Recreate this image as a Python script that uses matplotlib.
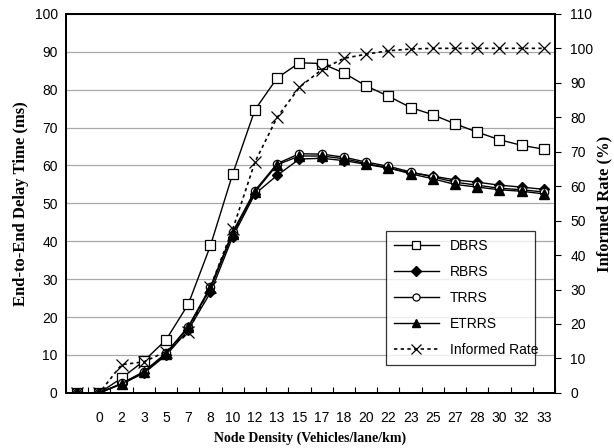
import numpy as np
import matplotlib.pyplot as plt

# categories on the x axis (first one has no label)
densities = ["", "0", "2", "3", "5", "7", "8", "10", "12", "13", "15", "17",
             "18", "20", "22", "23", "25", "27", "28", "30", "32", "33"]

dbrs = [0, 0, 3.9, 8.4, 14.0, 23.4, 38.9, 57.8, 74.7, 83.1, 87.1, 86.9,
        84.4, 81.0, 78.3, 75.3, 73.4, 71.0, 68.8, 66.8, 65.3, 64.3]
rbrs = [0, 0, 2.3, 5.2, 9.9, 16.6, 26.5, 41.2, 52.5, 57.4, 61.7, 61.9,
        61.3, 60.3, 59.3, 58.1, 57.2, 56.2, 55.6, 54.8, 54.3, 53.7]
trrs = [0, 0, 2.5, 5.6, 10.5, 17.5, 28.0, 42.5, 53.4, 60.5, 63.1, 63.0,
        62.2, 60.9, 59.8, 58.3, 57.0, 55.6, 54.8, 54.0, 53.6, 53.0]
etrrs = [0, 0, 2.4, 5.5, 10.3, 17.3, 27.6, 42.0, 53.0, 60.2, 62.5, 62.5,
         61.8, 60.5, 59.4, 57.8, 56.5, 55.0, 54.3, 53.6, 53.2, 52.5]
informed = [0, 0, 8.2, 9.0, 12.0, 17.8, 30.8, 47.5, 67.0, 80.0, 88.7, 93.8,
            97.1, 98.3, 99.3, 99.8, 100, 100, 100, 100, 100, 100]

x = np.arange(len(densities))

fig = plt.figure(figsize=(6.14, 4.48), dpi=100)
ax = fig.add_axes([0.1075, 0.123, 0.7965, 0.846])
ax2 = ax.twinx()

tick_font = {"family": "Liberation Sans", "size": 10}
xlabel_font = {"family": "Liberation Serif", "size": 10, "weight": "bold"}
ylabel_font = {"family": "Liberation Serif", "size": 12, "weight": "bold"}

ax.set_axisbelow(True)
ax.yaxis.grid(True, color="#a8a8a8", lw=0.9)

ax.plot(x, dbrs, "-", color="black", lw=1.0, marker="s", ms=7.5,
        mfc="white", mec="black", mew=0.9, label="DBRS", zorder=3)
ax.plot(x, rbrs, "-", color="black", lw=1.0, marker="D", ms=5.5,
        mfc="black", mec="black", label="RBRS", zorder=3)
ax.plot(x, trrs, "-", color="black", lw=1.0, marker="o", ms=6,
        mfc="white", mec="black", mew=0.9, label="TRRS", zorder=3)
ax.plot(x, etrrs, "-", color="black", lw=1.0, marker="^", ms=6.5,
        mfc="black", mec="black", label="ETRRS", zorder=3)
ax2.plot(x, informed, color="black", lw=1.2, ls=(0, (2, 2)), marker="x",
         ms=8, mew=0.9, label="Informed Rate", zorder=3)

ax.set_xlim(-0.5, len(densities) - 0.5)
ax.set_ylim(0, 100)
ax2.set_ylim(0, 110)
ax.set_yticks(np.arange(0, 101, 10))
ax2.set_yticks(np.arange(0, 111, 10))

ax.set_xticks(x)
ax.set_xticklabels(densities, fontdict=tick_font)
ax.set_xticks(np.arange(-0.5, len(densities), 1), minor=True)
ax.tick_params(axis="x", which="major", length=0, pad=13)
ax.tick_params(axis="x", which="minor", direction="in", length=4, width=0.8)
ax.tick_params(axis="y", length=0, pad=6)
ax2.tick_params(axis="y", direction="out", length=4, width=0.8, pad=7)
for lab in ax.get_yticklabels() + ax2.get_yticklabels():
    lab.set_fontfamily("Liberation Sans")
    lab.set_fontsize(10)

for sp in ax.spines.values():
    sp.set_linewidth(1.4)
for sp in ax2.spines.values():
    sp.set_linewidth(1.4)

ax.set_xlabel("Node Density (Vehicles/lane/km)", fontdict=xlabel_font, labelpad=5)
ax.set_ylabel("End-to-End Delay Time (ms)", fontdict=ylabel_font, labelpad=4)
ax2.set_ylabel("Informed Rate (%)", fontdict=ylabel_font, labelpad=2)

h1, l1 = ax.get_legend_handles_labels()
h2, l2 = ax2.get_legend_handles_labels()
leg = ax2.legend(h1 + h2, l1 + l2, loc="lower left",
                 bbox_to_anchor=(0.654, 0.074, 0.305, 0.322), mode="expand",
                 borderaxespad=0, frameon=True, fancybox=False,
                 edgecolor="black", handlelength=3.2, borderpad=0.6,
                 labelspacing=0.85, markerscale=0.85,
                 prop={"family": "Liberation Sans", "size": 10})
leg.get_frame().set_linewidth(0.9)

fig.savefig("out.png", dpi=100)
